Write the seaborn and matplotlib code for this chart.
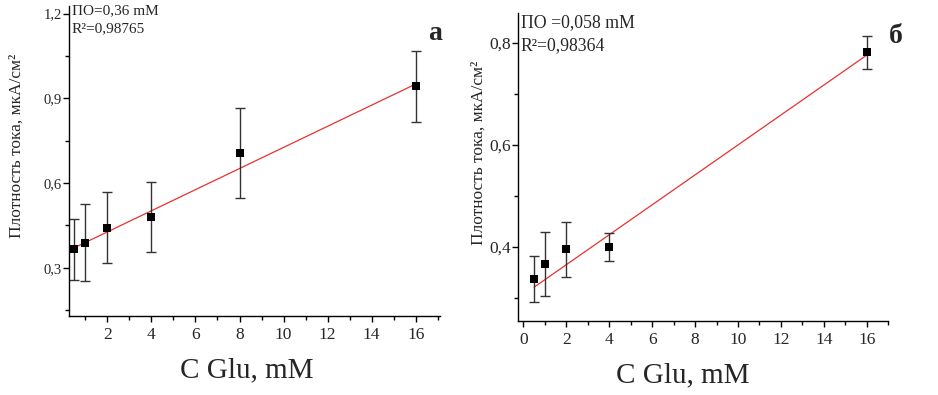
import numpy as np
import matplotlib
matplotlib.use("Agg")
import matplotlib.pyplot as plt
from matplotlib.ticker import MultipleLocator, FuncFormatter
import seaborn as sns

sns.set_style("ticks")
plt.rcParams["font.family"] = ["Liberation Serif", "DejaVu Serif"]

# === DATA ===
conc_a = [0.5, 1, 2, 4, 8, 16]
current_a = [0.365, 0.389, 0.441, 0.479, 0.706, 0.942]
err_a = [0.107, 0.136, 0.126, 0.124, 0.160, 0.125]
fit_a = [0.0374, 0.352]  # slope, intercept

conc_b = [0.5, 1, 2, 4, 16]
current_b = [0.337, 0.367, 0.395, 0.400, 0.782]
err_b = [0.045, 0.063, 0.054, 0.027, 0.032]
fit_b = [0.0294, 0.306]

text_a = ["ПО=0,36 mM", "R²=0,98765"]
text_b = ["ПО =0,058 mM", "R²=0,98364"]
ylabel = "Плотность тока, мкА/см²"
xlabel = "C Glu, mM"


def comma(v, pos):
    return f"{v:.1f}".replace(".", ",")


def draw_panel(ax, x, y, err, fit):
    xs = np.array([min(x), max(x)])
    sns.lineplot(x=xs, y=fit[0] * xs + fit[1], ax=ax, color="#e8322e", lw=0.9)
    ax.errorbar(x, y, yerr=err, fmt="none", ecolor="#333333", elinewidth=1,
                capsize=3.5, capthick=1)
    sns.scatterplot(x=x, y=y, ax=ax, marker="s", color="black", s=40,
                    edgecolor="black", linewidth=0, zorder=5)
    sns.despine(ax=ax)
    for s in ["left", "bottom"]:
        ax.spines[s].set_linewidth(1.0)
        ax.spines[s].set_color("black")
    ax.tick_params(which="both", direction="out", color="black", width=1)
    ax.tick_params(which="major", length=4)
    ax.tick_params(which="minor", length=3)
    ax.xaxis.set_major_locator(MultipleLocator(2))
    ax.xaxis.set_minor_locator(MultipleLocator(1))
    ax.yaxis.set_major_formatter(FuncFormatter(comma))


fig = plt.figure(figsize=(9.38, 3.95), dpi=100)

# --- panel a ---
ax1 = fig.add_axes([0.0736, 0.20, 0.3954, 0.785])
draw_panel(ax1, conc_a, current_a, err_a, fit_a)
ax1.set_xlim(0.26, 17.1)
ax1.set_ylim(0.129, 1.227)
ax1.yaxis.set_major_locator(MultipleLocator(0.3))
ax1.yaxis.set_minor_locator(MultipleLocator(0.15))
ax1.tick_params(axis="y", labelsize=10.5, pad=1)
ax1.tick_params(axis="x", labelsize=12.5, pad=4)
ax1.set_ylabel(ylabel, fontsize=12.5)
ax1.yaxis.set_label_coords(-0.12, 0.55)
ax1.set_xlabel(xlabel, fontsize=21)
ax1.xaxis.set_label_coords(0.48, -0.132)
ax1.text(0.008, 0.985, text_a[0], transform=ax1.transAxes, fontsize=11,
         va="center", ha="left")
ax1.text(0.008, 0.925, text_a[1], transform=ax1.transAxes, fontsize=11,
         va="center", ha="left")
ax1.text(1.005, 0.91, "а", transform=ax1.transAxes, fontsize=20,
         fontweight="bold", va="center", ha="right")

# --- panel b ---
ax2 = fig.add_axes([0.552, 0.187, 0.395, 0.78])
draw_panel(ax2, conc_b, current_b, err_b, fit_b)
ax2.set_xlim(-0.26, 17.0)
ax2.set_ylim(0.254, 0.859)
ax2.yaxis.set_major_locator(MultipleLocator(0.2))
ax2.yaxis.set_minor_locator(MultipleLocator(0.1))
ax2.tick_params(axis="y", labelsize=12.5, pad=1)
ax2.tick_params(axis="x", labelsize=12.5, pad=4)
ax2.set_ylabel(ylabel, fontsize=12.5)
ax2.yaxis.set_label_coords(-0.085, 0.545)
ax2.set_xlabel(xlabel, fontsize=21)
ax2.xaxis.set_label_coords(0.446, -0.133)
ax2.text(0.008, 0.968, text_b[0], transform=ax2.transAxes, fontsize=12.8,
         va="center", ha="left")
ax2.text(0.008, 0.895, text_b[1], transform=ax2.transAxes, fontsize=12.8,
         va="center", ha="left")
ax2.text(1.04, 0.925, "б", transform=ax2.transAxes, fontsize=20,
         fontweight="bold", va="center", ha="right")

fig.savefig("out.png", dpi=100)
